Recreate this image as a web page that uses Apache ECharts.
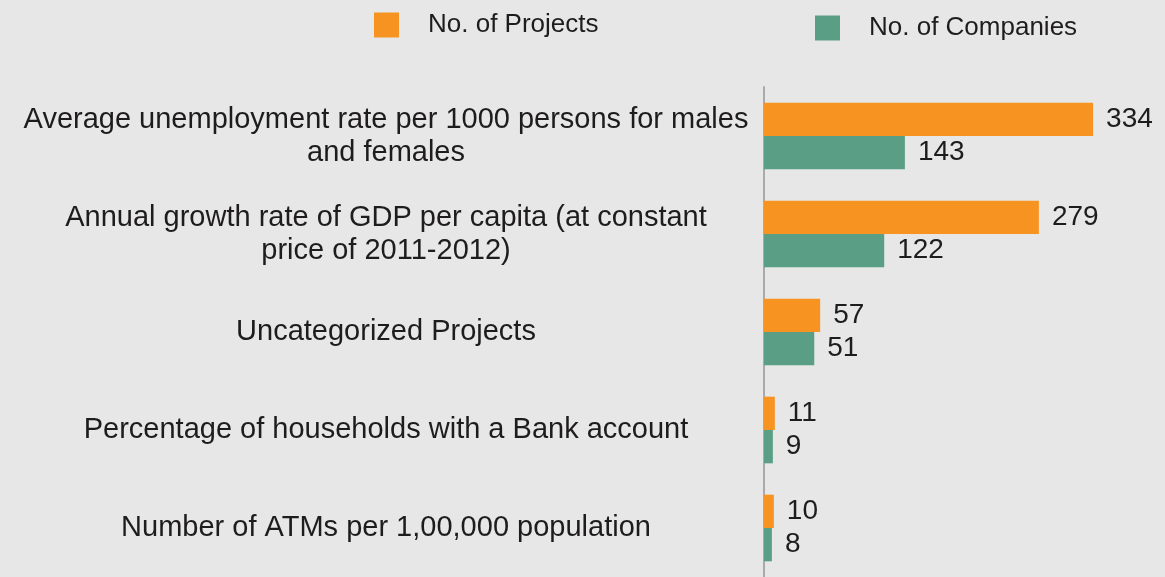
<!DOCTYPE html>
<html>
<head>
<meta charset="utf-8">
<script src="https://cdn.jsdelivr.net/npm/echarts@6/dist/echarts.min.js"></script>
<style>
html, body { margin: 0; padding: 0; background: #e7e7e7; }
#chart { width: 1165px; height: 577px; }
</style>
</head>
<body>
<div id="chart"></div>
<script>
// categories, top to bottom
var categories = [
	'Average unemployment rate per 1000 persons for males\nand females',
	'Annual growth rate of GDP per capita (at constant\nprice of 2011-2012)',
	'Uncategorized Projects',
	'Percentage of households with a Bank account',
	'Number of ATMs per 1,00,000 population'
];
var projects = [334, 279, 57, 11, 10];
var companies = [143, 122, 51, 9, 8];

var textColor = '#1e1c1d';
var fontFamily = '"Liberation Sans", Arial, Helvetica, sans-serif';

var chart = echarts.init(document.getElementById('chart'));

var labelStyle = {
	show : true,
	position : 'right',
	distance : 13,
	color : textColor,
	fontSize : 28,
	fontFamily : fontFamily
};

function legendAt(name, left, top) {
	return {
		left : left,
		top : top,
		padding : 0,
		data : [ name ],
		icon : 'rect',
		itemWidth : 25,
		itemHeight : 25,
		itemGap : 0,
		textStyle : {
			color : textColor,
			fontSize : 26,
			fontFamily : fontFamily,
			padding : [ 0, 0, 0, 24 ]
		}
	};
}

var option = {
	backgroundColor : '#e7e7e7',
	animation : false,
	legend : [ legendAt('No. of Projects', 374, 12), legendAt('No. of Companies', 815, 15) ],
	grid : {
		left : 764,
		right : 0,
		top : 87,
		bottom : 0,
		containLabel : false
	},
	xAxis : {
		type : 'value',
		min : 0,
		max : 407,
		show : false
	},
	yAxis : {
		type : 'category',
		inverse : true,
		data : categories,
		axisLine : {
			show : true,
			lineStyle : { color : '#aaaaaa', width : 2 }
		},
		axisTick : { show : false },
		axisLabel : {
			align : 'center',
			margin : 378,
			color : textColor,
			fontSize : 29,
			lineHeight : 33,
			fontFamily : fontFamily
		}
	},
	series : [ {
		name : 'No. of Projects',
		type : 'bar',
		data : projects,
		barGap : '0%',
		barCategoryGap : '32%',
		itemStyle : { color : '#f79421' },
		label : labelStyle
	}, {
		name : 'No. of Companies',
		type : 'bar',
		data : companies,
		barGap : '0%',
		barCategoryGap : '32%',
		itemStyle : { color : '#5a9e86' },
		label : labelStyle
	} ]
};
chart.setOption(option);
</script>
</body>
</html>
